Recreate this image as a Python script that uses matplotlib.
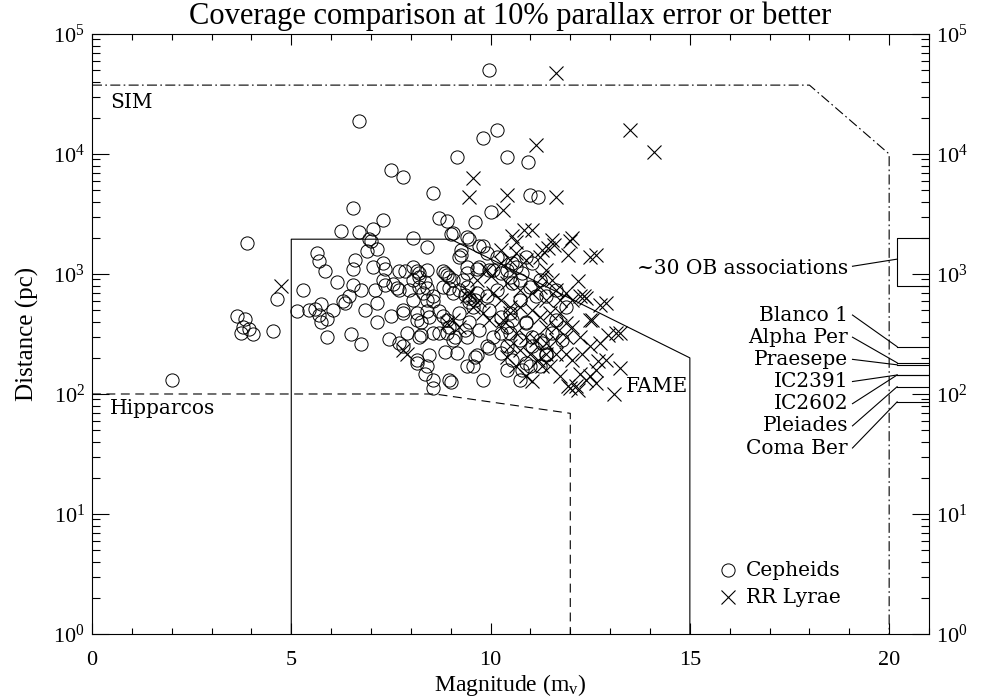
import matplotlib.pyplot as plt
from matplotlib.ticker import MultipleLocator, LogLocator, NullFormatter

# Cepheids: (magnitude, distance in pc)
cepheids = [
    (2.0, 130), (3.9, 1800), (3.65, 450), (3.75, 320), (3.8, 365), (3.95, 350),
    (4.05, 315), (3.85, 420), (4.55, 335), (4.65, 620),
    (6.7, 19000), (9.95, 50000), (10.15, 15800), (9.8, 13500), (9.15, 9500),
    (10.4, 9500), (10.95, 8600), (7.5, 7350), (7.8, 6400), (8.55, 4770),
    (6.55, 3570), (11.0, 4550), (11.2, 4350), (10.0, 3300), (9.6, 2730),
    (7.3, 2820), (8.7, 2910), (8.9, 2780), (6.25, 2290), (6.7, 2220),
    (7.05, 2350), (8.05, 2000), (8.4, 1690), (6.95, 1950), (7.0, 1900),
    (6.9, 1550), (7.15, 1610), (5.65, 1500), (5.7, 1280), (6.6, 1300),
    (9.05, 2200), (9.0, 2150), (9.4, 2050), (9.45, 1950), (9.7, 1710),
    (9.8, 1710), (9.25, 1440), (9.25, 1580), (9.2, 1390), (9.9, 1490), (10.15, 1390),
    (5.85, 1050), (6.55, 1110), (7.05, 1150), (7.3, 1230), (7.35, 1110),
    (7.7, 1050), (8.05, 1150), (8.15, 1050), (8.4, 1090), (8.8, 1050),
    (8.95, 940), (9.4, 1150), (9.65, 1110), (9.95, 1090), (10.25, 1010),
    (10.5, 940), (7.85, 1050), (8.2, 1020), (8.85, 1020), (9.4, 1020),
    (9.7, 1150), (10.05, 1080),
    (6.15, 850), (6.55, 810), (6.75, 730), (7.1, 730), (7.3, 890), (7.35, 810),
    (7.55, 830), (7.65, 760), (7.7, 735), (8.05, 890), (8.2, 940), (8.35, 860),
    (8.2, 780), (8.4, 760), (8.9, 980), (9.05, 890), (9.3, 890), (8.8, 780),
    (8.95, 760), (7.95, 735), (8.3, 700), (8.55, 650), (9.05, 700), (9.4, 780),
    (9.65, 700), (9.9, 650), (10.15, 735), (10.75, 890),
    (5.3, 740), (5.15, 490), (5.45, 500), (5.6, 510), (5.75, 560), (5.7, 455),
    (5.75, 400), (5.9, 420), (5.9, 300), (6.05, 500), (6.3, 600), (6.35, 570),
    (6.45, 650), (6.85, 500), (7.15, 570), (7.15, 395), (7.5, 450), (7.8, 470),
    (7.45, 290), (7.7, 265), (6.5, 315), (6.75, 260),
    (7.8, 500), (8.15, 470), (8.45, 440), (8.9, 414), (9.2, 470), (9.55, 535),
    (9.95, 500), (10.25, 440), (10.55, 414), (10.9, 395),
    (8.05, 607), (8.4, 607), (8.55, 590), (9.2, 740), (9.35, 670), (9.45, 580),
    (9.6, 607), (8.15, 415), (8.25, 395), (8.4, 490), (8.7, 490), (8.8, 450),
    (8.55, 320), (8.9, 320), (9.1, 300), (9.35, 340), (9.45, 395), (9.45, 630),
    (7.9, 320), (8.25, 310), (8.2, 300), (8.7, 320), (8.95, 360), (9.05, 282),
    (9.4, 300), (9.7, 341), (10.05, 300), (10.5, 320), (10.75, 282), (11.05, 300),
    (11.3, 265), (7.8, 250), (8.15, 192), (8.4, 170), (8.55, 131), (8.95, 131),
    (8.15, 180), (8.35, 148), (8.55, 112), (9.0, 127), (8.45, 210), (9.15, 220),
    (8.85, 226), (9.9, 250), (10.25, 220), (10.55, 192), (10.9, 180), (10.75, 131),
    (11.25, 170), (11.4, 217), (9.65, 210), (9.4, 170), (9.8, 131), (10.4, 158),
    (9.55, 170), (9.6, 205), (9.95, 240),
    (11.55, 320), (11.8, 282), (11.65, 414), (11.9, 535), (11.65, 735), (11.4, 650),
    (11.25, 890), (11.05, 1230), (10.9, 1390), (10.55, 1230), (10.4, 1080),
    (10.65, 1150), (10.8, 1010), (10.55, 840), (11.0, 780), (11.15, 650),
    (10.75, 607), (10.5, 470), (10.4, 365), (10.9, 390), (11.25, 282), (11.4, 210),
    (11.05, 250), (10.8, 158), (11.0, 170), (10.4, 250), (10.25, 320),
]

# RR Lyrae: (magnitude, distance in pc)
rr_lyrae = [
    (4.75, 800), (7.8, 233), (7.9, 217), (8.9, 390), (9.05, 414), (9.2, 365),
    (9.55, 6300), (9.45, 4350), (10.4, 4550), (11.65, 4350), (10.3, 3400),
    (11.15, 11900), (11.65, 47000), (13.5, 15800), (14.1, 10400),
    (10.55, 2080), (10.65, 1860), (10.85, 2330), (11.05, 2330), (10.25, 1580),
    (10.65, 1490), (10.9, 1310), (10.5, 1310), (11.25, 1390), (11.45, 1660),
    (11.55, 1920), (12.05, 2000), (11.95, 1440), (12.5, 1390), (12.65, 1440),
    (11.3, 1580), (11.6, 1750), (12.0, 1900),
    (11.4, 1080), (11.3, 940), (11.55, 890), (11.25, 780), (11.65, 735),
    (11.9, 690), (12.05, 607), (12.25, 650), (12.4, 630), (11.75, 607),
    (11.4, 607), (11.05, 690), (10.75, 735), (10.4, 840), (10.25, 1230),
    (9.9, 1080), (9.65, 890), (9.45, 690), (9.7, 607), (10.05, 690), (10.25, 607),
    (10.5, 535), (10.75, 535), (11.05, 500), (11.25, 440), (11.5, 470),
    (11.75, 470), (11.9, 390), (12.05, 365), (11.65, 365), (11.4, 365),
    (10.25, 365), (10.3, 414), (10.5, 470), (9.95, 414), (9.8, 470), (9.55, 535),
    (9.4, 650), (10.0, 960), (12.2, 880),
    (10.65, 320), (10.9, 300), (11.15, 282), (11.4, 265), (11.65, 282), (11.9, 300),
    (12.25, 300), (12.5, 414), (12.55, 410), (12.95, 310), (13.25, 320), (13.15, 320),
    (12.75, 265), (12.5, 250), (12.3, 217), (12.05, 192), (11.9, 217), (11.65, 217),
    (11.4, 217), (11.2, 192), (11.0, 217), (10.75, 233), (10.5, 250), (10.4, 205),
    (10.65, 170), (10.9, 140), (11.05, 128), (11.3, 170), (11.5, 170), (11.75, 140),
    (11.95, 117), (12.15, 117), (12.25, 148), (12.4, 131), (12.5, 140), (12.65, 158),
    (12.9, 192), (13.1, 100), (13.25, 165), (12.35, 650), (12.75, 550), (12.9, 570),
    (12.7, 190), (12.0, 112), (12.2, 108), (12.65, 124),
]

# mission coverage limits (10% parallax error)
sim_mag = [0, 18, 20, 20]
sim_pc = [37500, 37500, 10000, 1]
fame_mag = [5, 5, 9, 15, 15]
fame_pc = [1, 1950, 1950, 200, 1]
hip_mag = [0, 8.6, 12, 12]
hip_pc = [100, 100, 69, 1]

# open clusters and OB associations on the right edge
cluster_names = ['Blanco 1', 'Alpha Per', 'Praesepe', 'IC2391', 'IC2602', 'Pleiades', 'Coma Ber']
cluster_pc = [248, 182, 175, 144, 144, 115, 86]
ob_pc = [800, 2000]

plt.rcParams['font.family'] = 'Liberation Serif'
plt.rcParams['mathtext.fontset'] = 'custom'
plt.rcParams['mathtext.rm'] = 'Liberation Serif'
plt.rcParams['mathtext.it'] = 'Liberation Serif:italic'

fig = plt.figure(figsize=(9.9, 6.98), dpi=100)
ax = fig.add_axes([0.0929, 0.0917, 0.8455, 0.8596])
ax.set_yscale('log')
ax.set_xlim(0, 21)
ax.set_ylim(1, 1e5)

lw = 0.8
ax.plot(sim_mag, sim_pc, color='k', lw=lw, dashes=[9, 3, 1.5, 3])
ax.plot(fame_mag, fame_pc, color='k', lw=lw)
ax.plot(hip_mag, hip_pc, color='k', lw=lw, dashes=[8, 5])

ax.plot([m for m, d in cepheids], [d for m, d in cepheids], 'o', ls='none',
        mfc='none', mec='k', ms=9.5, mew=0.7, zorder=3)
ax.plot([m for m, d in rr_lyrae], [d for m, d in rr_lyrae], 'x', ls='none',
        color='k', ms=9.5, mew=0.8, zorder=3)

inner = dict(family='DejaVu Serif', fontsize=14.5)
ax.text(0.45, 27000, 'SIM', va='center', ha='left', **inner)
ax.text(0.45, 76, 'Hipparcos', va='center', ha='left', **inner)
ax.text(13.4, 116, 'FAME', va='center', ha='left', **inner)

# OB associations box
ax.plot([21, 20.2, 20.2, 21], [ob_pc[1], ob_pc[1], ob_pc[0], ob_pc[0]], color='k', lw=lw)
ax.plot([19.08, 20.2], [1160, 1330], color='k', lw=lw)
ax.text(18.97, 1120, '~30 OB associations', ha='right', va='center', **inner)

# cluster labels with leader lines
for i, (name, pc) in enumerate(zip(cluster_names, cluster_pc)):
    ly = 455 / 1.53 ** i
    ax.text(18.97, ly, name, ha='right', va='center', **inner)
    ax.plot([19.08, 20.2], [ly, pc], color='k', lw=lw)
    ax.plot([20.2, 21], [pc, pc], color='k', lw=lw)

# legend
ax.plot([15.95], [3.4], 'o', mfc='none', mec='k', ms=9.5, mew=0.7)
ax.text(16.4, 3.4, 'Cepheids', va='center', **inner)
ax.plot([15.95], [2.03], 'x', color='k', ms=9.5, mew=0.8)
ax.text(16.4, 2.03, 'RR Lyrae', va='center', **inner)

ax.xaxis.set_major_locator(MultipleLocator(5))
ax.xaxis.set_minor_locator(MultipleLocator(1))
ax.yaxis.set_major_locator(LogLocator(base=10, numticks=10))
ax.yaxis.set_minor_locator(LogLocator(base=10, subs=range(2, 10), numticks=10))
ax.yaxis.set_minor_formatter(NullFormatter())
ax.tick_params(which='both', direction='in', top=True, right=True,
               labelright=True, labelsize=16, width=0.8)
ax.tick_params(axis='x', which='major', length=8, pad=12)
ax.tick_params(axis='x', which='minor', length=4)
ax.tick_params(axis='y', which='major', length=12, pad=5)
ax.tick_params(axis='y', which='minor', length=6)
for s in ax.spines.values():
    s.set_linewidth(0.8)

ax.set_xlabel('Magnitude (m$_\\mathrm{v}$)', fontsize=17, labelpad=2)
ax.set_ylabel('Distance (pc)', fontsize=18, labelpad=10)
ax.set_title('Coverage comparison at 10% parallax error or better', fontsize=22, pad=7)

fig.savefig('out.png', dpi=100)
